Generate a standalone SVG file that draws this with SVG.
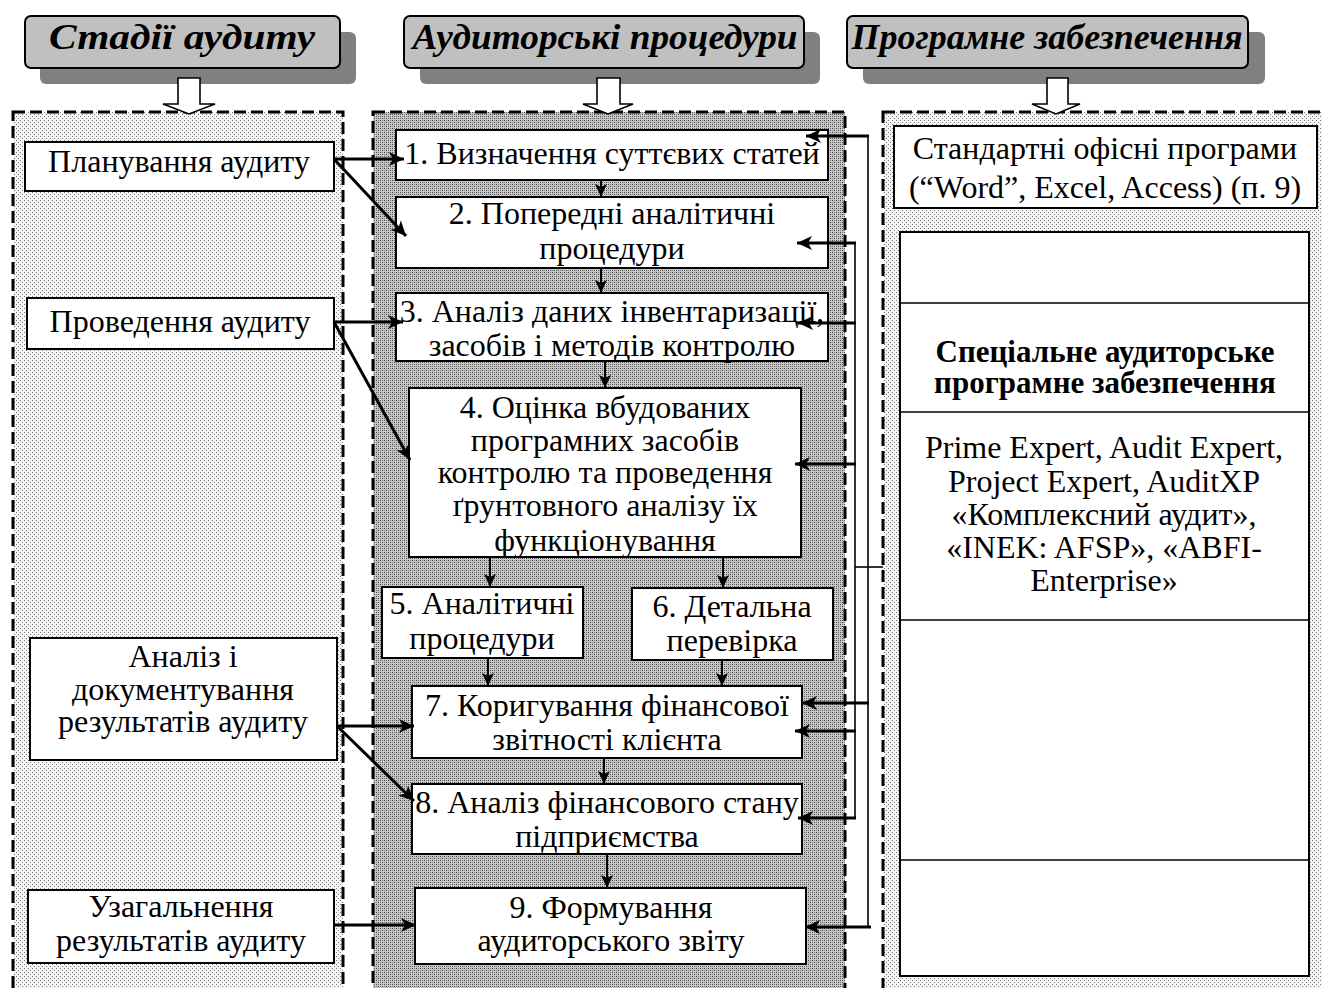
<svg xmlns="http://www.w3.org/2000/svg" width="1322" height="988" viewBox="0 0 1322 988">
<style>
.hdr{fill:#c0c0c0;stroke:#000;stroke-width:2}
.shd{fill:#808080}
.ht{font-family:"Liberation Serif",serif;font-weight:bold;font-style:italic;font-size:35px;fill:#000;text-anchor:middle}
.t{font-family:"Liberation Serif",serif;font-size:32px;fill:#000;text-anchor:middle}
.tb{font-family:"Liberation Serif",serif;font-size:31px;font-weight:bold;fill:#000;text-anchor:middle}
.box{fill:#fff;stroke:#000;stroke-width:2}
.hollow{fill:#fff;stroke:#000;stroke-width:1.6}
.panel{stroke:#000;stroke-width:3;stroke-dasharray:12 5}
.arr{stroke:#000;stroke-width:3;fill:none;marker-end:url(#ah)}
.varr{stroke:#000;stroke-width:2;fill:none;marker-end:url(#ahs)}
.bus{stroke:#000;stroke-width:1.6;fill:none}
</style>
<defs>
<pattern id="light" width="4" height="4" patternUnits="userSpaceOnUse">
<rect width="4" height="4" fill="#f6f6f6"/>
<rect x="0" y="0" width="1" height="1" fill="#777"/>
<rect x="2" y="2" width="1" height="1" fill="#777"/>
</pattern>
<pattern id="dark" width="4" height="4" patternUnits="userSpaceOnUse">
<rect width="4" height="4" fill="#c8c8c8"/>
<rect x="0" y="0" width="1" height="1" fill="#444"/>
<rect x="2" y="2" width="1" height="1" fill="#444"/>
<rect x="2" y="0" width="1" height="1" fill="#777"/>
<rect x="0" y="2" width="1" height="1" fill="#777"/>
</pattern>
<marker id="ah" markerUnits="userSpaceOnUse" markerWidth="16" markerHeight="14" refX="15" refY="7" orient="auto">
<path d="M0,0 L15,7 L0,14 L4,7 z" fill="#000"/>
</marker>
<marker id="ahs" markerUnits="userSpaceOnUse" markerWidth="14" markerHeight="12" refX="13" refY="6" orient="auto">
<path d="M0,0 L13,6 L0,12 L3,6 z" fill="#000"/>
</marker>
</defs>
<rect width="1322" height="988" fill="#fff"/>

<g id="panels">
<rect class="panel" x="13" y="112" width="330" height="890" fill="url(#light)"/>
<rect class="panel" x="373" y="112" width="472" height="890" fill="url(#dark)"/>
<rect class="panel" x="883" y="112" width="450" height="890" fill="url(#light)"/>
</g>

<g id="header-stages">
<rect class="shd" x="40" y="32" width="316" height="52" rx="6"/>
<rect class="hdr" x="25" y="16" width="315" height="52" rx="6"/>
<text class="ht" x="182" y="49" textLength="266" lengthAdjust="spacingAndGlyphs">Стадії аудиту</text>
<path class="hollow" d="M178,78 H200 V104 H215 L189,114 L163,104 H178 Z"/>
</g>
<g id="header-procedures">
<rect class="shd" x="420" y="32" width="400" height="52" rx="6"/>
<rect class="hdr" x="404" y="16" width="400" height="52" rx="6"/>
<text class="ht" x="605" y="49" textLength="385" lengthAdjust="spacingAndGlyphs">Аудиторські процедури</text>
<path class="hollow" d="M597,78 H620 V104 H633 L608,114 L583,104 H597 Z"/>
</g>
<g id="header-software">
<rect class="shd" x="863" y="32" width="402" height="52" rx="6"/>
<rect class="hdr" x="847" y="16" width="401" height="52" rx="6"/>
<text class="ht" x="1047" y="49" textLength="391" lengthAdjust="spacingAndGlyphs">Програмне забезпечення</text>
<path class="hollow" d="M1047,78 H1068 V104 H1080 L1056,114 L1032,104 H1047 Z"/>
</g>

<g id="stage-planning">
<rect class="box" x="25" y="142" width="309" height="49"/>
<text class="t" x="179" y="172">Планування аудиту</text>
</g>
<g id="stage-conduct">
<rect class="box" x="27" y="298" width="307" height="51"/>
<text class="t" x="180" y="332">Проведення аудиту</text>
</g>
<g id="stage-analysis">
<rect class="box" x="30" y="638" width="307" height="122"/>
<text class="t" x="183" y="667">Аналіз і</text>
<text class="t" x="183" y="700">документування</text>
<text class="t" x="183" y="732">результатів аудиту</text>
</g>
<g id="stage-summary">
<rect class="box" x="28" y="890" width="306" height="73"/>
<text class="t" x="181" y="917">Узагальнення</text>
<text class="t" x="181" y="951">результатів аудиту</text>
</g>

<g id="proc1">
<rect class="box" x="396" y="130" width="432" height="50"/>
<text class="t" x="612" y="164">1. Визначення суттєвих статей</text>
</g>
<g id="proc2">
<rect class="box" x="396" y="197" width="432" height="71"/>
<text class="t" x="612" y="224">2. Попередні аналітичні</text>
<text class="t" x="612" y="259">процедури</text>
</g>
<g id="proc3">
<rect class="box" x="396" y="293" width="432" height="68"/>
<text class="t" x="612" y="322">3. Аналіз даних інвентаризації,</text>
<text class="t" x="612" y="356">засобів і методів контролю</text>
</g>
<g id="proc4">
<rect class="box" x="409" y="388" width="392" height="169"/>
<text class="t" x="605" y="418">4. Оцінка вбудованих</text>
<text class="t" x="605" y="451">програмних засобів</text>
<text class="t" x="605" y="483">контролю та проведення</text>
<text class="t" x="605" y="516">ґрунтовного аналізу їх</text>
<text class="t" x="605" y="551">функціонування</text>
</g>
<g id="proc5">
<rect class="box" x="382" y="587" width="201" height="71"/>
<text class="t" x="482" y="614">5. Аналітичні</text>
<text class="t" x="482" y="649">процедури</text>
</g>
<g id="proc6">
<rect class="box" x="632" y="588" width="201" height="72"/>
<text class="t" x="732" y="617">6. Детальна</text>
<text class="t" x="732" y="651">перевірка</text>
</g>
<g id="proc7">
<rect class="box" x="412" y="686" width="390" height="72"/>
<text class="t" x="607" y="716">7. Коригування фінансової</text>
<text class="t" x="607" y="750">звітності клієнта</text>
</g>
<g id="proc8">
<rect class="box" x="412" y="784" width="390" height="70"/>
<text class="t" x="607" y="813">8. Аналіз фінансового стану</text>
<text class="t" x="607" y="847">підприємства</text>
</g>
<g id="proc9">
<rect class="box" x="415" y="888" width="391" height="76"/>
<text class="t" x="611" y="918">9. Формування</text>
<text class="t" x="611" y="951">аудиторського звіту</text>
</g>

<g id="sw-standard">
<rect class="box" x="894" y="126" width="423" height="82"/>
<text class="t" x="1105" y="159">Стандартні офісні програми</text>
<text class="t" x="1105" y="198">(“Word”, Excel, Access) (п. 9)</text>
</g>
<g id="sw-special">
<rect class="box" x="900" y="232" width="409" height="744"/>
<line class="bus" x1="900" y1="303" x2="1309" y2="303"/>
<line class="bus" x1="900" y1="412" x2="1309" y2="412"/>
<line class="bus" x1="900" y1="620" x2="1309" y2="620"/>
<line class="bus" x1="900" y1="860" x2="1309" y2="860"/>
<text class="tb" x="1105" y="362">Спеціальне аудиторське</text>
<text class="tb" x="1105" y="393">програмне забезпечення</text>
<text class="t" x="1104" y="458">Prime Expert, Audit Expert,</text>
<text class="t" x="1104" y="492">Project Expert, AuditXP</text>
<text class="t" x="1104" y="525">«Комплексний аудит»,</text>
<text class="t" x="1104" y="558">«INEK: AFSP», «ABFI-</text>
<text class="t" x="1104" y="591">Enterprise»</text>
</g>

<g id="connectors">
<line class="arr" x1="334" y1="159" x2="404" y2="159"/>
<line class="arr" x1="334" y1="159" x2="406" y2="236"/>
<line class="arr" x1="334" y1="322" x2="403" y2="322"/>
<line class="arr" x1="334" y1="322" x2="410" y2="460"/>
<line class="arr" x1="337" y1="726" x2="414" y2="726"/>
<line class="arr" x1="337" y1="726" x2="414" y2="801"/>
<line class="arr" x1="334" y1="925" x2="416" y2="925"/>

<line class="varr" x1="601" y1="180" x2="601" y2="197"/>
<line class="varr" x1="601" y1="268" x2="601" y2="293"/>
<line class="varr" x1="605" y1="361" x2="605" y2="388"/>
<line class="varr" x1="490" y1="557" x2="490" y2="587"/>
<line class="varr" x1="723" y1="557" x2="723" y2="588"/>
<line class="varr" x1="488" y1="658" x2="488" y2="686"/>
<line class="varr" x1="722" y1="660" x2="722" y2="686"/>
<line class="varr" x1="604" y1="758" x2="604" y2="784"/>
<line class="varr" x1="607" y1="854" x2="607" y2="888"/>

<line class="bus" x1="868" y1="136" x2="868" y2="927"/>
<line class="bus" x1="855" y1="243" x2="855" y2="818"/>
<line class="bus" x1="855" y1="567" x2="883" y2="567"/>
<line class="arr" x1="869" y1="136" x2="806" y2="136"/>
<line class="arr" x1="856" y1="243" x2="797" y2="243"/>
<line class="arr" x1="856" y1="323" x2="798" y2="323"/>
<line class="arr" x1="856" y1="464" x2="795" y2="464"/>
<line class="arr" x1="869" y1="703" x2="802" y2="703"/>
<line class="arr" x1="856" y1="731" x2="795" y2="731"/>
<line class="arr" x1="856" y1="818" x2="798" y2="818"/>
<line class="arr" x1="871" y1="927" x2="805" y2="927"/>
</g>
</svg>
